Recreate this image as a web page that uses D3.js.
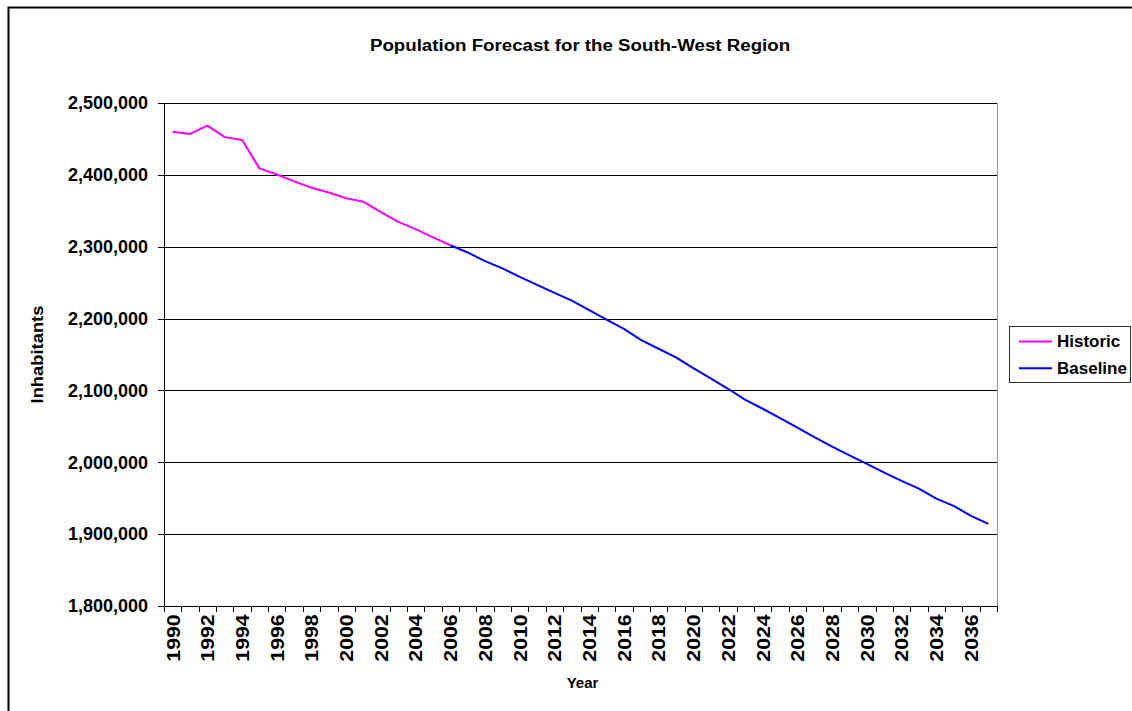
<!DOCTYPE html>
<html><head><meta charset="utf-8">
<script src="https://cdn.jsdelivr.net/npm/d3@7"></script>
<style>
html,body{margin:0;padding:0;background:#fff;}
svg{display:block;font-family:"Liberation Sans",Arial,sans-serif;}
</style></head>
<body><svg id="c" width="1132" height="711"></svg>
<script>
const years = d3.range(1990, 2038);
const historicYears = d3.range(1990, 2007);
const historicValues = [2460000,2457000,2468500,2452500,2448500,2409000,2400500,2391000,2382000,2375500,2367500,2362500,2348000,2334500,2324500,2313000,2302000];
const baselineYears = d3.range(2006, 2038);
const baselineValues = [2302000,2292000,2280000,2269800,2258000,2247000,2235800,2225000,2211600,2198600,2185600,2170000,2158000,2146000,2131000,2116700,2102300,2086800,2074500,2061600,2048100,2034700,2021800,2009700,1997700,1985600,1974100,1963400,1949500,1939400,1925500,1914300];
const yTicks = [1800000,1900000,2000000,2100000,2200000,2300000,2400000,2500000];
const labelYears = years.filter(y => (y - 1990) % 2 === 0);
const seriesNames = ["Historic","Baseline"];
const seriesColors = ["#FF00FF","#0000FF"];

const svg = d3.select("#c");
const L = 164, R = 997, T = 103, B = 606;

// outer border
svg.append("path").attr("d", `M8.5,1000 V7.5 H1200`).attr("fill","none").attr("stroke","#000").attr("stroke-width",2);

const x = d3.scaleBand().domain(years).range([L, R]).padding(0);
const xi = d3.scaleLinear().domain([0, years.length]).range([L, R]);
const y = d3.scaleLinear().domain([1800000, 2500000]).range([B, T]);

// gridlines
svg.append("g").attr("transform",`translate(${L},0)`)
  .call(d3.axisLeft(y).tickValues(yTicks.slice(1)).tickSize(-(R-L)).tickFormat(""))
  .call(g => { g.select(".domain").remove(); g.selectAll("line").attr("stroke","#000").attr("shape-rendering","crispEdges"); });

// plot right border
svg.append("line").attr("x1",R+0.5).attr("x2",R+0.5).attr("y1",T).attr("y2",B).attr("stroke","#999").attr("stroke-width",1);

// y axis
svg.append("g").attr("transform",`translate(${L},0)`)
  .call(d3.axisLeft(y).tickValues(yTicks).tickSize(6).tickPadding(10).tickFormat(d3.format(",")))
  .call(g => {
    g.select(".domain").attr("stroke","#000").attr("shape-rendering","crispEdges");
    g.selectAll("line").attr("stroke","#000").attr("shape-rendering","crispEdges");
    g.selectAll("text").attr("font-size",18).attr("font-weight","bold").attr("fill","#000").attr("font-family","Liberation Sans, Arial, sans-serif");
  });

// x axis ticks at band boundaries
svg.append("g").attr("transform",`translate(0,${B})`)
  .call(d3.axisBottom(xi).tickValues(d3.range(0, years.length+1)).tickSize(6).tickFormat(""))
  .call(g => {
    g.select(".domain").attr("stroke","#000").attr("shape-rendering","crispEdges");
    g.selectAll("line").attr("stroke","#000").attr("shape-rendering","crispEdges");
  });

// x labels
svg.append("g").attr("transform",`translate(0,${B})`)
  .call(d3.axisBottom(x).tickValues(labelYears).tickSize(0).tickFormat(d3.format("d")))
  .call(g => {
    g.select(".domain").remove();
    g.selectAll("text").attr("font-size",19).attr("font-weight","bold").attr("fill","#000")
      .attr("font-family","Liberation Sans, Arial, sans-serif")
      .attr("transform","rotate(-90) scale(1.12,1)").attr("text-anchor","end")
      .attr("x",-7.5).attr("y",0).attr("dy","0.36em");
  });

// lines
const line = d3.line().x(d => x(d[0]) + x.bandwidth()/2).y(d => y(d[1]));
svg.append("path").datum(baselineYears.map((yr,i)=>[yr, baselineValues[i]]))
  .attr("d", line).attr("fill","none").attr("stroke",seriesColors[1]).attr("stroke-width",2).attr("stroke-linejoin","round");
svg.append("path").datum(historicYears.map((yr,i)=>[yr, historicValues[i]]))
  .attr("d", line).attr("fill","none").attr("stroke",seriesColors[0]).attr("stroke-width",2).attr("stroke-linejoin","round");

// title
svg.append("text").attr("transform","translate(580,51) scale(1.1,1)").attr("text-anchor","middle")
  .attr("font-size",17).attr("font-weight","bold").text("Population Forecast for the South-West Region");

// axis titles
svg.append("text").attr("transform",`translate(43,${(T+B)/2}) rotate(-90) scale(1.08,1)`).attr("text-anchor","middle")
  .attr("font-size",17).attr("font-weight","bold").text("Inhabitants");
svg.append("text").attr("x",(L+R)/2+2).attr("y",688).attr("text-anchor","middle")
  .attr("font-size",15).attr("font-weight","bold").text("Year");

// legend
const lg = svg.append("g");
lg.append("rect").attr("x",1009.5).attr("y",326.5).attr("width",121).attr("height",56)
  .attr("fill","#fff").attr("stroke","#333").attr("stroke-width",1);
seriesNames.forEach((n,i) => {
  const cy = 341.5 + i*26.7;
  lg.append("line").attr("x1",1019).attr("x2",1052).attr("y1",cy).attr("y2",cy).attr("stroke",seriesColors[i]).attr("stroke-width",2);
  lg.append("text").attr("x",1057).attr("y",cy).attr("dy","0.35em").attr("font-size",17).attr("font-weight","bold").text(n);
});
</script></body></html>
